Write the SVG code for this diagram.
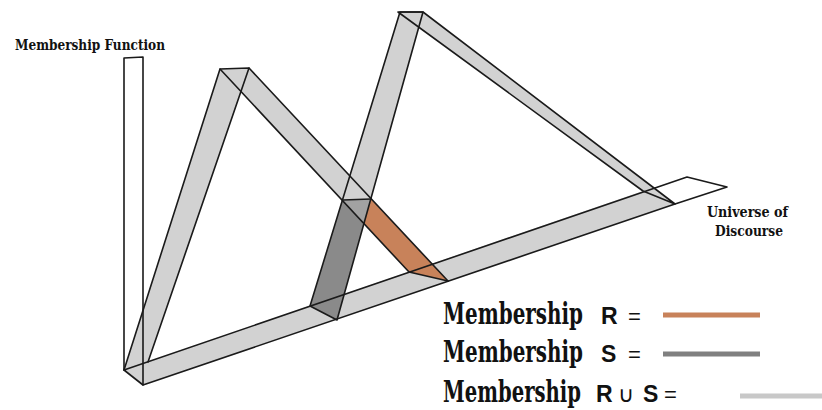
<svg xmlns="http://www.w3.org/2000/svg" width="822" height="410" viewBox="0 0 822 410">
<style>
.ln{fill:none;stroke:#1a1a1a;stroke-width:1.6;stroke-linejoin:round;stroke-linecap:round}
.lt{fill:#d2d2d2}
.dk{fill:#8a8a8a}
.md{fill:#a2a2a2}
.or{fill:#c8825a}
.bl{font-family:"DejaVu Serif Condensed","DejaVu Serif",serif;font-weight:bold;fill:#111}
.lg{font-family:"DejaVu Serif Condensed","DejaVu Serif",serif;font-weight:bold;font-size:24px;fill:#111}
.ss{font-family:"Liberation Sans",Arial,sans-serif;font-size:22px;fill:#111}
.sb{font-family:"Liberation Sans",Arial,sans-serif;font-size:23px;font-weight:bold;fill:#111}
</style>
<rect width="822" height="410" fill="#ffffff"/>
<g id="universe-axis">
<polygon class="lt" points="124,370 643,191 675,204 143,385"/>
</g>
<g id="triangle-1">
<polygon class="lt" points="220,69 249,68 148,362 124,370"/>
<polygon class="lt" points="220,69 249,68 371,199 342.6,200"/>
<polygon class="or" points="371,199 448,281 409,272 364,223"/>
</g>
<g id="triangle-2">
<polygon class="lt" points="398,12 423,12 675,204 643,191"/>
<polygon class="lt" points="400,12 423,12 371,199 342.6,200"/>
<polygon class="dk" points="342.6,200 364,223 337,320 310,306"/>
<polygon class="md" points="342.6,200 371,199 364,223"/>
</g>
<g id="edges">
<polyline class="ln" points="124,370 124,58 143,57 143,385"/>
<polygon class="ln" points="124,370 687,177 727,187 675,204 143,385"/>
<polyline class="ln" points="124,370 220,69 249,68 148,362"/>
<line class="ln" x1="220" y1="69" x2="409" y2="272"/>
<line class="ln" x1="249" y1="68" x2="448" y2="281"/>
<line class="ln" x1="409" y1="272" x2="448" y2="281"/>
<polyline class="ln" points="310,306 400,12 423,12 337,320 310,306"/>
<line class="ln" x1="342.6" y1="200" x2="371" y2="199"/>
<polyline class="ln" points="643,191 398,12 423,12 675,204 643,191"/>
</g>
<g id="axis-labels">
<text class="bl" x="15" y="50" font-size="15" textLength="150" lengthAdjust="spacingAndGlyphs">Membership Function</text>
<text class="bl" x="707" y="217" font-size="15" textLength="81" lengthAdjust="spacingAndGlyphs">Universe of</text>
<text class="bl" x="715" y="236" font-size="15" textLength="68" lengthAdjust="spacingAndGlyphs">Discourse</text>
</g>
<g id="legend">
<text class="lg" transform="translate(443,324) scale(1,1.25)" textLength="140" lengthAdjust="spacingAndGlyphs">Membership</text>
<text class="sb" x="601" y="324">R</text>
<text class="ss" x="628" y="324">=</text>
<line x1="663" y1="315" x2="760" y2="315" stroke="#c8825a" stroke-width="5"/>
<text class="lg" transform="translate(443,362) scale(1,1.25)" textLength="140" lengthAdjust="spacingAndGlyphs">Membership</text>
<text class="sb" x="601" y="362">S</text>
<text class="ss" x="628" y="362">=</text>
<line x1="663" y1="354" x2="760" y2="354" stroke="#808080" stroke-width="5"/>
<text class="lg" transform="translate(443,402) scale(1,1.25)" textLength="138" lengthAdjust="spacingAndGlyphs">Membership</text>
<text class="sb" x="596" y="402">R</text>
<text class="ss" x="618" y="402">∪</text>
<text class="sb" x="643" y="402">S</text>
<text class="ss" x="664" y="402">=</text>
<line x1="740" y1="396" x2="822" y2="396" stroke="#c8c8c8" stroke-width="5"/>
</g>
</svg>
